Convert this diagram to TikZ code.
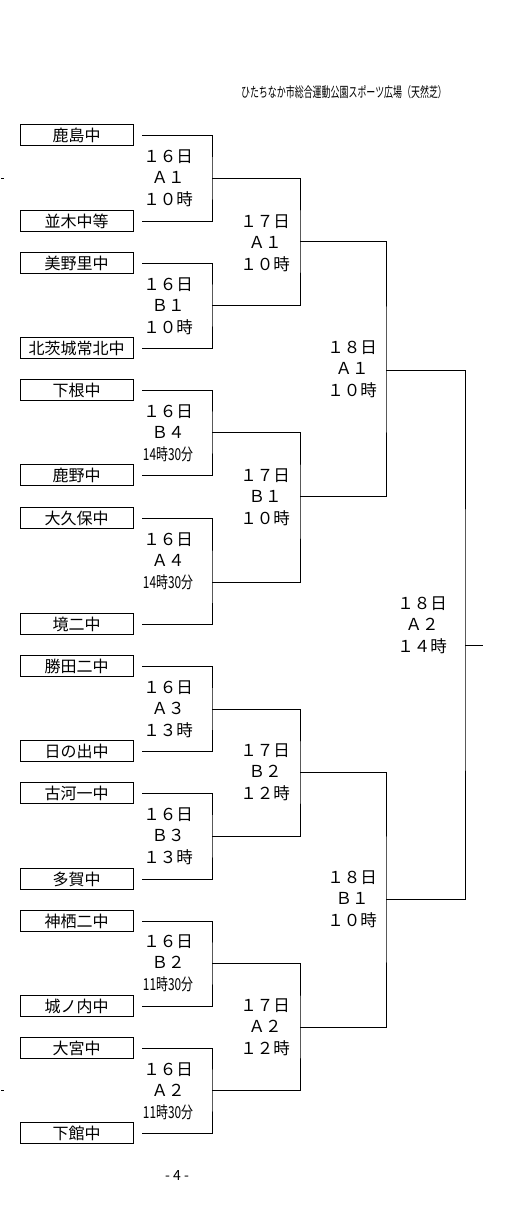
\documentclass[tikz,border=0pt]{standalone}
\usepackage{fontspec}
\setmainfont{Noto Sans CJK JP}
\newcommand{\smtime}[1]{{\fontsize{16.5}{16}\selectfont\scalebox{0.72}[1]{#1}}}
\begin{document}
\begin{tikzpicture}[x=1pt,y=-1pt,
  team/.style={draw, line width=0.8pt, minimum width=113pt, minimum height=20.5pt, inner sep=0pt, font=\fontsize{16}{16}\selectfont},
  br/.style={line width=0.8pt},
  lbl/.style={align=center, inner sep=0pt, font=\fontsize{16.5}{21.5}\selectfont},
]
\useasboundingbox (0,0) rectangle (524,1220);
% header
\node[inner sep=0pt] (hdr) at (344,92) {\fontsize{14}{14}\selectfont\scalebox{0.64}[1]{ひたちなか市総合運動公園スポーツ広場（天然芝）}};
% teams
\node[team] (t1) at (76.5,135) {鹿島中};
\node[team] (t2) at (76.5,221) {並木中等};
\node[team] (t3) at (76.5,263) {美野里中};
\node[team] (t4) at (76.5,348) {北茨城常北中};
\node[team] (t5) at (76.5,390) {下根中};
\node[team] (t6) at (76.5,475) {鹿野中};
\node[team] (t7) at (76.5,518) {大久保中};
\node[team] (t8) at (76.5,624) {境二中};
\node[team] (t9) at (76.5,666) {勝田二中};
\node[team] (t10) at (76.5,751) {日の出中};
\node[team] (t11) at (76.5,793) {古河一中};
\node[team] (t12) at (76.5,879) {多賀中};
\node[team] (t13) at (76.5,921) {神栖二中};
\node[team] (t14) at (76.5,1006) {城ノ内中};
\node[team] (t15) at (76.5,1048) {大宮中};
\node[team] (t16) at (76.5,1133) {下館中};
% junctions
\coordinate (j1) at (212,178);
\coordinate (j2) at (212,305);
\coordinate (j3) at (212,432);
\coordinate (j4) at (212,582);
\coordinate (j5) at (212,709);
\coordinate (j6) at (212,836);
\coordinate (j7) at (212,963);
\coordinate (j8) at (212,1090);
\coordinate (k1) at (300,241);
\coordinate (k2) at (300,496);
\coordinate (k3) at (300,772);
\coordinate (k4) at (300,1027);
\coordinate (n1) at (386,370);
\coordinate (n2) at (386,899);
\coordinate (f) at (465,645);
\coordinate (fe) at (483,645);
% round 1
\draw[br] ([xshift=9pt]t1.east) -| (j1) |- ([xshift=9pt]t2.east);
\draw[br] ([xshift=9pt]t3.east) -| (j2) |- ([xshift=9pt]t4.east);
\draw[br] ([xshift=9pt]t5.east) -| (j3) |- ([xshift=9pt]t6.east);
\draw[br] ([xshift=9pt]t7.east) -| (j4) |- ([xshift=9pt]t8.east);
\draw[br] ([xshift=9pt]t9.east) -| (j5) |- ([xshift=9pt]t10.east);
\draw[br] ([xshift=9pt]t11.east) -| (j6) |- ([xshift=9pt]t12.east);
\draw[br] ([xshift=9pt]t13.east) -| (j7) |- ([xshift=9pt]t14.east);
\draw[br] ([xshift=9pt]t15.east) -| (j8) |- ([xshift=9pt]t16.east);
% round 2
\draw[br] (j1) -| (k1) |- (j2);
\draw[br] (j3) -| (k2) |- (j4);
\draw[br] (j5) -| (k3) |- (j6);
\draw[br] (j7) -| (k4) |- (j8);
% round 3
\draw[br] (k1) -| (n1) |- (k2);
\draw[br] (k3) -| (n2) |- (k4);
% final
\draw[br] (n1) -| (f) |- (n2);
\draw[br] (f) -- (fe);
% labels round 1
\node[lbl] (l1) at (168,178) {１６日\\Ａ１\\１０時};
\node[lbl] (l2) at (168,306) {１６日\\Ｂ１\\１０時};
\node[lbl] (l3) at (168,433) {１６日\\Ｂ４\\\smtime{14時30分}};
\node[lbl] (l4) at (168,561) {１６日\\Ａ４\\\smtime{14時30分}};
\node[lbl] (l5) at (168,709) {１６日\\Ａ３\\１３時};
\node[lbl] (l6) at (168,836) {１６日\\Ｂ３\\１３時};
\node[lbl] (l7) at (168,963) {１６日\\Ｂ２\\\smtime{11時30分}};
\node[lbl] (l8) at (168,1091) {１６日\\Ａ２\\\smtime{11時30分}};
% round 2
\node[lbl] (m1) at (265,243) {１７日\\Ａ１\\１０時};
\node[lbl] (m2) at (265,497) {１７日\\Ｂ１\\１０時};
\node[lbl] (m3) at (265,772) {１７日\\Ｂ２\\１２時};
\node[lbl] (m4) at (265,1027) {１７日\\Ａ２\\１２時};
% round 3
\node[lbl] (r1) at (352,369) {１８日\\Ａ１\\１０時};
\node[lbl] (r2) at (352,899) {１８日\\Ｂ１\\１０時};
% final
\node[lbl] (fl) at (422,625) {１８日\\Ａ２\\１４時};
% side marks
\coordinate (d1a) at (1,178); \coordinate (d1b) at (4,178);
\coordinate (d2a) at (1,1090); \coordinate (d2b) at (4,1090);
\draw[line width=0.6pt] (d1a) -- (d1b);
\draw[line width=0.6pt] (d2a) -- (d2b);
% page number
\node[inner sep=0pt, font=\fontsize{14}{14}\selectfont] (pg) at (177,1175) {- 4 -};
\end{tikzpicture}
\end{document}
